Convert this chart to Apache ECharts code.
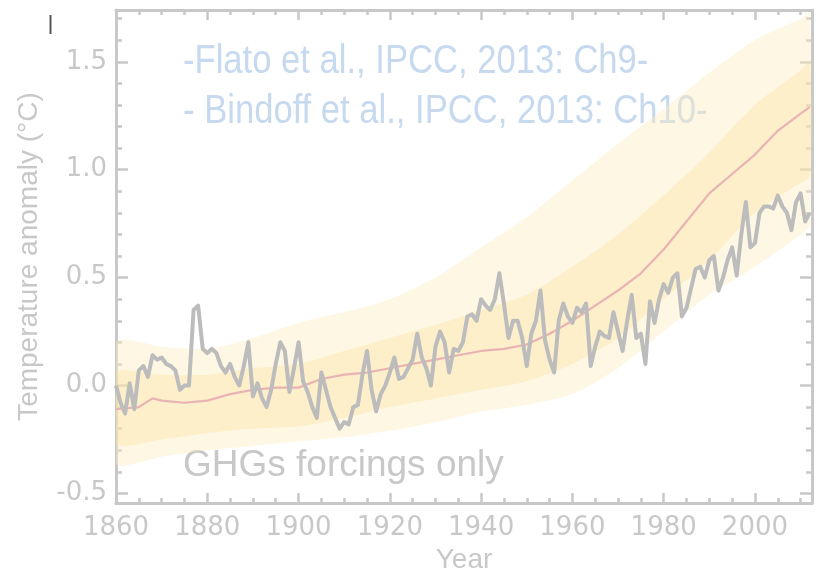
<!DOCTYPE html>
<html>
<head>
<meta charset="utf-8">
<title>Temperature anomaly — GHGs forcings only</title>
<script src="https://cdn.jsdelivr.net/npm/echarts@6/dist/echarts.min.js"></script>
<style>
  html, body { margin: 0; padding: 0; background: #ffffff; }
  #chart { width: 816px; height: 579px; }
</style>
</head>
<body>
<div id="chart"></div>
<script>
// Observed annual temperature anomaly, 1860-2012 (degC)
const obsStartYear = 1860;
const obsValues = [
  0.00, -0.08, -0.13, 0.01, -0.11, 0.07, 0.09, 0.04, 0.14, 0.12,   // 1860s
  0.13, 0.10, 0.09, 0.07, -0.02, 0.00, 0.00, 0.35, 0.37, 0.17,     // 1870s
  0.15, 0.17, 0.15, 0.09, 0.06, 0.10, 0.04, 0.00, 0.09, 0.20,      // 1880s
  -0.05, 0.01, -0.06, -0.10, -0.02, 0.10, 0.20, 0.16, -0.03, 0.08, // 1890s
  0.20, 0.02, -0.03, -0.10, -0.15, 0.06, -0.02, -0.10, -0.15, -0.20, // 1900s
  -0.17, -0.18, -0.10, -0.09, 0.05, 0.16, -0.02, -0.12, -0.04, 0.00, // 1910s
  0.06, 0.13, 0.03, 0.04, 0.08, 0.12, 0.24, 0.13, 0.08, 0.00,      // 1920s
  0.18, 0.25, 0.20, 0.06, 0.17, 0.16, 0.20, 0.32, 0.33, 0.30,      // 1930s
  0.40, 0.37, 0.35, 0.40, 0.52, 0.38, 0.22, 0.30, 0.30, 0.22,      // 1940s
  0.09, 0.24, 0.30, 0.44, 0.21, 0.12, 0.06, 0.30, 0.38, 0.32,      // 1950s
  0.29, 0.36, 0.34, 0.38, 0.09, 0.18, 0.25, 0.23, 0.22, 0.34,      // 1960s
  0.25, 0.16, 0.30, 0.42, 0.22, 0.24, 0.10, 0.39, 0.29, 0.40,      // 1970s
  0.47, 0.43, 0.50, 0.52, 0.32, 0.36, 0.45, 0.54, 0.55, 0.50,      // 1980s
  0.58, 0.60, 0.44, 0.50, 0.58, 0.64, 0.51, 0.70, 0.85, 0.64,      // 1990s
  0.66, 0.80, 0.83, 0.83, 0.82, 0.88, 0.83, 0.80, 0.72, 0.85,      // 2000s
  0.89, 0.76, 0.80                                                 // 2010-2012
];

// Multi-model mean (GHG-only simulations)
const meanYears = [1860, 1865, 1868, 1870, 1875, 1880, 1885, 1890, 1895, 1900, 1905, 1910,
  1915, 1920, 1925, 1930, 1935, 1940, 1945, 1950, 1955, 1960, 1965, 1970, 1975, 1980,
  1985, 1990, 1995, 2000, 2005, 2010, 2012];
const meanValues = [-0.11, -0.10, -0.06, -0.07, -0.08, -0.07, -0.04, -0.02, -0.01, -0.01, 0.03, 0.05,
  0.06, 0.08, 0.10, 0.12, 0.14, 0.16, 0.17, 0.19, 0.24, 0.30, 0.37, 0.44, 0.52, 0.63,
  0.76, 0.89, 0.98, 1.07, 1.18, 1.26, 1.29];

// Spread of the individual model runs
const bandYears  = [1860, 1870, 1880, 1890, 1900, 1910, 1920, 1930, 1940, 1950, 1960, 1970, 1980, 1990, 2000, 2010, 2012];
const outerUpper = [0.20, 0.18, 0.17, 0.22, 0.29, 0.34, 0.40, 0.50, 0.64, 0.78, 0.95, 1.12, 1.28, 1.45, 1.60, 1.70, 1.72];
const outerLower = [-0.36, -0.33, -0.30, -0.28, -0.26, -0.24, -0.21, -0.17, -0.12, -0.09, -0.04, 0.08, 0.25, 0.42, 0.55, 0.70, 0.74];
const innerUpper = [0.06, 0.05, 0.05, 0.08, 0.10, 0.16, 0.22, 0.28, 0.35, 0.42, 0.55, 0.70, 0.88, 1.08, 1.30, 1.46, 1.50];
const innerLower = [-0.27, -0.25, -0.22, -0.20, -0.19, -0.15, -0.10, -0.06, -0.02, 0.02, 0.10, 0.22, 0.40, 0.58, 0.80, 0.94, 0.97];

// Axis ticks
const xTickYears  = [1860, 1880, 1900, 1920, 1940, 1960, 1980, 2000];
const xMinorYears = [1860, 1865, 1870, 1875, 1880, 1885, 1890, 1895, 1900, 1905, 1910, 1915, 1920,
  1925, 1930, 1935, 1940, 1945, 1950, 1955, 1960, 1965, 1970, 1975, 1980, 1985, 1990, 1995,
  2000, 2005, 2010];
const yTickValues  = [-0.5, 0.0, 0.5, 1.0, 1.5];
const yMinorValues = [-0.5, -0.4, -0.3, -0.2, -0.1, 0.0, 0.1, 0.2, 0.3, 0.4, 0.5, 0.6, 0.7,
  0.8, 0.9, 1.0, 1.1, 1.2, 1.3, 1.4, 1.5, 1.6, 1.7];

const axisGray = '#c8c8c8';

const obsData = obsValues.map((v, i) => [obsStartYear + i, v]);
const meanData = meanYears.map((y, i) => [y, meanValues[i]]);

// Band polygon: upper edge left-to-right, then lower edge right-to-left
function bandSeries(upper, lower, color) {
  return {
    type: 'custom', silent: true, z: 1,
    data: [0],
    renderItem: function (params, api) {
      const pts = [];
      for (let i = 0; i < bandYears.length; i++) pts.push(api.coord([bandYears[i], upper[i]]));
      for (let i = bandYears.length - 1; i >= 0; i--) pts.push(api.coord([bandYears[i], lower[i]]));
      return {
        type: 'polygon',
        shape: { points: pts, smooth: 0.25 },
        style: { fill: color },
        clipPath: { type: 'rect', shape: {
          x: params.coordSys.x, y: params.coordSys.y,
          width: params.coordSys.width, height: params.coordSys.height } }
      };
    }
  };
}

function xAxisDef(position, ticks, len, withLine, withLabel) {
  return {
    type: 'value', min: 1860, max: 2012.5, position: position,
    axisLine: { show: withLine, onZero: false, lineStyle: { color: axisGray, width: 3 } },
    axisTick: { show: true, inside: true, length: len, customValues: ticks,
                lineStyle: { color: axisGray, width: 2.5 } },
    axisLabel: withLabel ? {
      show: true, customValues: ticks, margin: 12, color: axisGray,
      fontFamily: 'DejaVu Sans', fontSize: 26,
      formatter: (v) => String(v)
    } : { show: false },
    splitLine: { show: false }
  };
}
function yAxisDef(position, ticks, len, withLine, withLabel) {
  return {
    type: 'value', min: -0.545, max: 1.74, position: position,
    axisLine: { show: withLine, onZero: false, lineStyle: { color: axisGray, width: 3 } },
    axisTick: { show: true, inside: true, length: len, customValues: ticks,
                lineStyle: { color: axisGray, width: 2.5 } },
    axisLabel: withLabel ? {
      show: true, customValues: ticks, margin: 9, color: axisGray,
      fontFamily: 'DejaVu Sans', fontSize: 26,
      formatter: (v) => v.toFixed(1)
    } : { show: false },
    splitLine: { show: false }
  };
}

const xMain = xAxisDef('bottom', xTickYears, 10, true, true);
xMain.name = 'Year';
xMain.nameLocation = 'middle';
xMain.nameGap = 38;
xMain.nameTextStyle = { color: axisGray, fontFamily: 'Liberation Sans', fontSize: 28 };

const yMain = yAxisDef('left', yTickValues, 12, true, true);
yMain.name = 'Temperature anomaly (°C)';
yMain.nameLocation = 'middle';
yMain.nameGap = 73;
yMain.nameTextStyle = { color: axisGray, fontFamily: 'Liberation Sans', fontSize: 28 };

const chart = echarts.init(document.getElementById('chart'), null, { renderer: 'canvas' });

chart.setOption({
  animation: false,
  backgroundColor: '#ffffff',
  grid: { left: 116, top: 10, width: 696, height: 503 },
  xAxis: [
    xMain,
    xAxisDef('bottom', xMinorYears, 5, false, false),
    xAxisDef('top', xTickYears, 10, true, false),
    xAxisDef('top', xMinorYears, 5, false, false)
  ],
  yAxis: [
    yMain,
    yAxisDef('left', yMinorValues, 6, false, false),
    yAxisDef('right', yTickValues, 12, true, false),
    yAxisDef('right', yMinorValues, 6, false, false)
  ],
  series: [
    bandSeries(outerUpper, outerLower, 'rgba(252, 236, 190, 0.42)'),
    bandSeries(innerUpper, innerLower, 'rgba(250, 225, 160, 0.38)'),
    { name: 'Model mean', type: 'line', data: meanData, symbol: 'none', z: 3,
      lineStyle: { color: '#e9b3b3', width: 2.2 } },
    { name: 'Observations', type: 'line', data: obsData, symbol: 'none', z: 4,
      lineStyle: { color: '#bcbcbc', width: 4, join: 'round' } }
  ],
  graphic: [
    { type: 'text', x: 183, y: 61.5, scaleX: 0.865, silent: true,
      style: { text: '-Flato et al., IPCC, 2013: Ch9-', font: '40px "Liberation Sans", Arial, sans-serif',
               fill: '#c6d9ee', verticalAlign: 'middle' } },
    { type: 'text', x: 183, y: 112, scaleX: 0.865, silent: true,
      style: { text: '- Bindoff et al., IPCC, 2013: Ch10-', font: '40px "Liberation Sans", Arial, sans-serif',
               fill: '#c6d9ee', verticalAlign: 'middle' } },
    { type: 'text', x: 183, y: 465.5, silent: true,
      style: { text: 'GHGs forcings only', font: '37px "Liberation Sans", Arial, sans-serif',
               fill: '#c8c8c8', verticalAlign: 'middle' } },
    { type: 'line', silent: true, shape: { x1: 50.5, y1: 15, x2: 50.5, y2: 34 },
      style: { stroke: '#555555', lineWidth: 2 } }
  ]
});
</script>
</body>
</html>
